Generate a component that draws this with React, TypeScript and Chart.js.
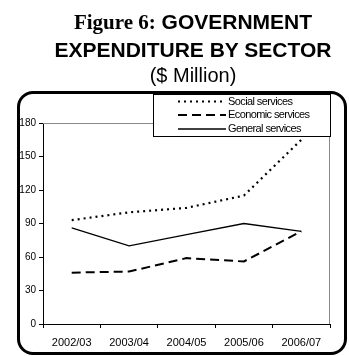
import React, { useEffect, useRef } from "react";
import { Chart, registerables } from "chart.js";

Chart.register(...registerables);

const categories = ["2002/03", "2003/04", "2004/05", "2005/06", "2006/07"];
const socialServices = [93, 100, 104, 115, 165];
const economicServices = [46, 47, 59, 56, 83];
const generalServices = [86, 70, 80, 90, 83];
const seriesNames = ["Social services", "Economic services", "General services"];
const yTicks = [0, 30, 60, 90, 120, 150, 180];

const frameLines = {
  id: "frameLines",
  afterDatasetsDraw(chart: any) {
    const { ctx, chartArea } = chart;
    ctx.save();
    ctx.strokeStyle = "#8a8a8a";
    ctx.lineWidth = 1;
    ctx.beginPath();
    ctx.moveTo(chartArea.left, Math.round(chartArea.top) + 0.5);
    ctx.lineTo(chartArea.right, Math.round(chartArea.top) + 0.5);
    ctx.moveTo(Math.round(chartArea.right) - 0.5, chartArea.top);
    ctx.lineTo(Math.round(chartArea.right) - 0.5, chartArea.bottom);
    ctx.stroke();
    ctx.restore();
  },
};

const customLegend = {
  id: "customLegend",
  afterDraw(chart: any) {
    const { ctx } = chart;
    const left = 153.5, top = 94.5, right = 330.5, bottom = 136.5;
    ctx.save();
    ctx.fillStyle = "#fff";
    ctx.fillRect(left, top, right - left, bottom - top);
    ctx.strokeStyle = "#000";
    ctx.lineWidth = 1;
    ctx.strokeRect(left, top, right - left, bottom - top);
    const rows = [101.5, 115, 129];
    chart.data.datasets.forEach((ds: any, i: number) => {
      const y = rows[i];
      ctx.save();
      ctx.strokeStyle = ds.borderColor;
      ctx.lineWidth = ds.borderWidth;
      ctx.setLineDash(ds.borderDash || []);
      ctx.beginPath();
      ctx.moveTo(178, y);
      ctx.lineTo(226, y);
      ctx.stroke();
      ctx.restore();
      ctx.fillStyle = "#000";
      ctx.font = "11px Arial, 'Liberation Sans', sans-serif";
      (ctx as any).letterSpacing = "-0.6px";
      ctx.textAlign = "left";
      ctx.textBaseline = "middle";
      ctx.fillText(ds.label, 228, y);
    });
    ctx.restore();
  },
};

export default function App() {
  const canvasRef = useRef<HTMLCanvasElement>(null);

  useEffect(() => {
    if (!canvasRef.current) return;
    const chart = new Chart(canvasRef.current, {
      type: "line",
      data: {
        labels: categories,
        datasets: [
          {
            label: seriesNames[0],
            data: socialServices,
            borderColor: "#000",
            borderWidth: 2.2,
            borderDash: [2, 4],
            pointRadius: 0,
            tension: 0,
            fill: false,
          },
          {
            label: seriesNames[1],
            data: economicServices,
            borderColor: "#000",
            borderWidth: 2,
            borderDash: [9, 5],
            pointRadius: 0,
            tension: 0,
            fill: false,
          },
          {
            label: seriesNames[2],
            data: generalServices,
            borderColor: "#000",
            borderWidth: 1.3,
            pointRadius: 0,
            tension: 0,
            fill: false,
          },
        ],
      },
      options: {
        animation: false,
        responsive: false,
        maintainAspectRatio: false,
        layout: { padding: { top: 123, right: 19, bottom: 0, left: 0 } },
        plugins: { legend: { display: false }, title: { display: false }, tooltip: { enabled: false } },
        scales: {
          x: {
            type: "category",
            offset: true,
            grid: { offset: true, drawOnChartArea: false, tickLength: 4, color: "#000", tickColor: "#000" },
            border: { color: "#000", width: 1 },
            ticks: { color: "#000", padding: 8, maxRotation: 0, font: { family: "Arial, 'Liberation Sans', sans-serif", size: 11 } },
            afterFit: (s: any) => { s.height = 32; },
          },
          y: {
            min: 0,
            max: 180,
            afterBuildTicks: (s: any) => { s.ticks = yTicks.map((v) => ({ value: v })); },
            grid: { drawOnChartArea: false, tickLength: 4, color: "#000", tickColor: "#000" },
            border: { color: "#000", width: 1 },
            ticks: { color: "#000", padding: 3, font: { family: "Arial, 'Liberation Sans', sans-serif", size: 10 } },
            afterFit: (s: any) => { s.width = 43; },
          },
        },
      },
      plugins: [frameLines, customLegend],
    });
    return () => chart.destroy();
  }, []);

  return (
    <div style={{ position: "fixed", left: 0, top: 0, width: 349, height: 356, background: "#fff", overflow: "hidden" }}>
      <div
        style={{
          position: "absolute",
          left: 17,
          top: 91,
          width: 330,
          height: 264,
          border: "3px solid #000",
          borderRadius: 16,
          boxSizing: "border-box",
        }}
      />
      <canvas ref={canvasRef} width={349} height={356} style={{ position: "absolute", left: 0, top: 0, width: 349, height: 356 }} />
      <div
        style={{
          position: "absolute",
          left: 36,
          width: 314,
          top: 8,
          textAlign: "center",
          fontFamily: "Arial, 'Liberation Sans', sans-serif",
          color: "#000",
        }}
      >
        <div style={{ fontSize: 21, fontWeight: "bold", lineHeight: "28px", whiteSpace: "nowrap" }}>
          <span style={{ fontFamily: "'Times New Roman', 'Liberation Serif', serif" }}>Figure 6:</span>
          {"  "}GOVERNMENT
        </div>
        <div style={{ fontSize: 21, fontWeight: "bold", lineHeight: "28px", whiteSpace: "nowrap" }}>EXPENDITURE BY SECTOR</div>
        <div style={{ fontSize: 20, lineHeight: "22px", whiteSpace: "nowrap" }}>($ Million)</div>
      </div>
    </div>
  );
}
